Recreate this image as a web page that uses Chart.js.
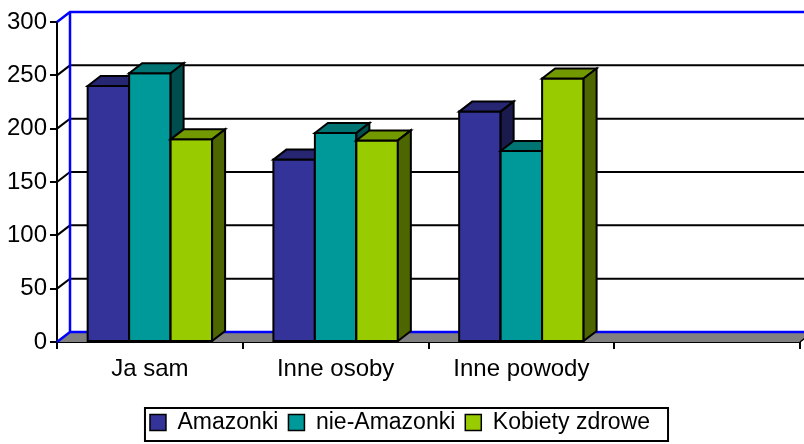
<!DOCTYPE html>
<html><head><meta charset="utf-8">
<script src="https://cdn.jsdelivr.net/npm/chart.js@4.4.0/dist/chart.umd.min.js"></script>
<style>html,body{margin:0;padding:0;background:#fff;overflow:hidden}</style>
</head><body>
<canvas id="c" width="804" height="444"></canvas>
<script>
const categories = ['Ja sam', 'Inne osoby', 'Inne powody', ''];
const seriesNames = ['Amazonki', 'nie-Amazonki', 'Kobiety zdrowe'];
const amazonki = [240, 171, 216, null];
const nieAmazonki = [252, 196, 179, null];
const kobietyZdrowe = [190, 189, 247, null];
const yTicks = [0, 50, 100, 150, 200, 250, 300];

const frontColors = ['#333399', '#009999', '#99cc00'];
const topColors = ['#262673', '#007373', '#739900'];
const sideColors = ['#1a1a4d', '#004d4d', '#4d6600'];
const DX = 13, DY = -10;
const AXIS_FONT = { family: "'Liberation Sans', Arial, sans-serif", size: 24 };
const LEGEND_FONT = { family: "'Liberation Sans', Arial, sans-serif", size: 23 };

const plugin3d = {
  id: 'excel3d',
  beforeDatasetsDraw(chart) {
    const { ctx, chartArea: a, scales: { y } } = chart;
    const W = chart.width;
    const y0 = y.getPixelForValue(yTicks[0]);
    const yTop = y.getPixelForValue(yTicks[yTicks.length - 1]);
    ctx.save();
    ctx.fillStyle = '#808080';
    ctx.beginPath();
    ctx.moveTo(a.left, y0); ctx.lineTo(a.left + DX, y0 + DY);
    ctx.lineTo(a.right + DX, y0 + DY); ctx.lineTo(a.right, y0);
    ctx.closePath(); ctx.fill();
    ctx.strokeStyle = '#000'; ctx.lineWidth = 1.5;
    ctx.beginPath(); ctx.moveTo(a.right, y0); ctx.lineTo(a.right + DX, y0 + DY); ctx.stroke();
    for (const v of yTicks) {
      const py = y.getPixelForValue(v);
      const edge = (v === yTicks[0] || v === yTicks[yTicks.length - 1]);
      ctx.strokeStyle = edge ? '#0000ff' : '#000';
      ctx.lineWidth = edge ? 2.5 : 2;
      ctx.beginPath();
      ctx.moveTo(a.left, py); ctx.lineTo(a.left + DX, py + DY); ctx.lineTo(W + 5, py + DY);
      ctx.stroke();
    }
    ctx.strokeStyle = '#0000ff'; ctx.lineWidth = 2.5;
    ctx.beginPath(); ctx.moveTo(a.left + DX, yTop + DY); ctx.lineTo(a.left + DX, y0 + DY); ctx.stroke();
    ctx.restore();
  },
  afterDatasetsDraw(chart) {
    const { ctx } = chart;
    ctx.save();
    ctx.lineJoin = 'miter';
    ctx.strokeStyle = '#000';
    ctx.lineWidth = 2;
    for (let c = 0; c < categories.length; c++) {
      for (let d = 0; d < chart.data.datasets.length; d++) {
        const val = chart.data.datasets[d].data[c];
        const el = chart.getDatasetMeta(d).data[c];
        if (!el || val == null) continue;
        const { x, y, base, width } = el.getProps(['x', 'y', 'base', 'width'], true);
        const l = x - width / 2, r = x + width / 2;
        ctx.fillStyle = frontColors[d];
        ctx.beginPath(); ctx.rect(l, y, r - l, base - y); ctx.fill(); ctx.stroke();
        ctx.fillStyle = topColors[d];
        ctx.beginPath(); ctx.moveTo(l, y); ctx.lineTo(l + DX, y + DY); ctx.lineTo(r + DX, y + DY); ctx.lineTo(r, y); ctx.closePath(); ctx.fill(); ctx.stroke();
        ctx.fillStyle = sideColors[d];
        ctx.beginPath(); ctx.moveTo(r, y); ctx.lineTo(r + DX, y + DY); ctx.lineTo(r + DX, base + DY); ctx.lineTo(r, base); ctx.closePath(); ctx.fill(); ctx.stroke();
      }
    }
    ctx.restore();
  },
  afterDraw(chart) {
    const lg = chart.legend;
    if (!lg || !lg.legendHitBoxes || !lg.legendHitBoxes.length) return;
    const hb = lg.legendHitBoxes;
    const last = hb[hb.length - 1];
    const left = hb[0].left - 5;
    const right = last.left + last.width + 18;
    const ctx = chart.ctx;
    ctx.save();
    ctx.strokeStyle = '#000'; ctx.lineWidth = 2;
    ctx.strokeRect(left, 408, right - left, 33);
    ctx.restore();
  }
};

new Chart(document.getElementById('c'), {
  type: 'bar',
  data: {
    labels: categories,
    datasets: [
      { label: seriesNames[0], data: amazonki, backgroundColor: frontColors[0], borderColor: '#000', borderWidth: 1.5 },
      { label: seriesNames[1], data: nieAmazonki, backgroundColor: frontColors[1], borderColor: '#000', borderWidth: 1.5 },
      { label: seriesNames[2], data: kobietyZdrowe, backgroundColor: frontColors[2], borderColor: '#000', borderWidth: 1.5 }
    ]
  },
  options: {
    responsive: false,
    animation: false,
    devicePixelRatio: 1,
    layout: { padding: { top: 22, right: 4, left: 0, bottom: 0 } },
    datasets: { bar: { barPercentage: 1, categoryPercentage: 0.67 } },
    plugins: {
      tooltip: { enabled: false },
      legend: {
        position: 'bottom',
        labels: { font: LEGEND_FONT, color: '#000', boxWidth: 16, boxHeight: 16, padding: 10 }
      }
    },
    scales: {
      x: {
        z: 1,
        afterFit(s) { s.height = 59; },
        grid: { drawOnChartArea: false, offset: true, tickLength: 7, color: '#000', lineWidth: 2 },
        border: { color: '#000', width: 2 },
        ticks: { font: AXIS_FONT, color: '#000', padding: 6, maxRotation: 0, autoSkip: false }
      },
      y: {
        z: 1,
        min: 0, max: 300,
        afterFit(s) { s.width = 57; },
        afterBuildTicks(s) { s.ticks = yTicks.map(v => ({ value: v })); },
        grid: { drawOnChartArea: false, tickLength: 7, color: '#000', lineWidth: 2 },
        border: { color: '#000', width: 2 },
        ticks: { font: AXIS_FONT, color: '#000', padding: 3 }
      }
    }
  },
  plugins: [plugin3d]
});
</script>
</body></html>
